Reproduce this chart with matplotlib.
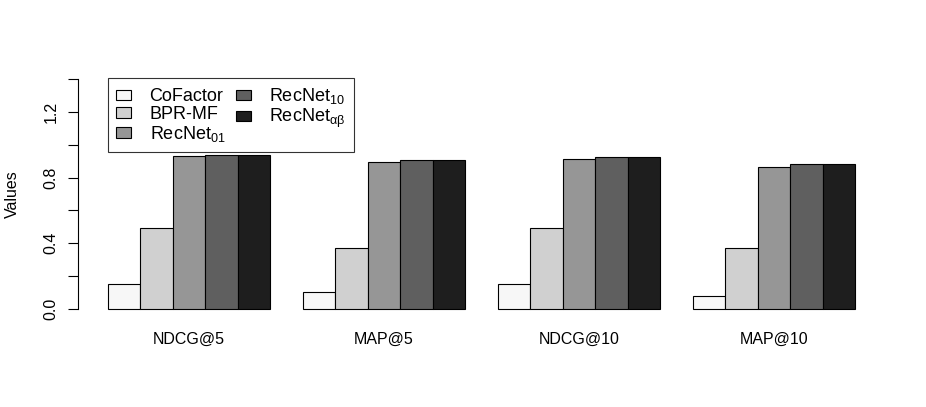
import numpy as np
import matplotlib.pyplot as plt
from matplotlib.patches import Patch

plt.rcParams['font.family'] = ['Liberation Sans', 'DejaVu Sans']
plt.rcParams['mathtext.fontset'] = 'custom'
plt.rcParams['mathtext.rm'] = 'Liberation Sans'
plt.rcParams['mathtext.it'] = 'Liberation Sans'

# -----------------------------
# Data
# -----------------------------
metrics = ["NDCG@5", "MAP@5", "NDCG@10", "MAP@10"]
methods = ["CoFactor", "BPR-MF", r"RecNet$_\mathrm{01}$", r"RecNet$_\mathrm{10}$", r"RecNet$_\mathrm{αβ}$"]
cofactor = [0.15, 0.10, 0.15, 0.08]
bpr_mf = [0.49, 0.37, 0.49, 0.37]
recnet_01 = [0.93, 0.895, 0.915, 0.865]
recnet_10 = [0.94, 0.905, 0.925, 0.882]
recnet_ab = [0.94, 0.905, 0.925, 0.882]
colors = ["#F7F7F7", "#D0D0D0", "#969696", "#5F5F5F", "#1E1E1E"]

values = [cofactor, bpr_mf, recnet_01, recnet_10, recnet_ab]

# -----------------------------
# Plot (R barplot look)
# -----------------------------
fig = plt.figure(figsize=(9.26, 4.07), dpi=100)
ax = fig.add_axes([78 / 926, 1 - 318 / 407, (885 - 78) / 926, (318 - 70) / 407])

n = len(methods)
for j, (vals, c) in enumerate(zip(values, colors)):
    x = [1 + g * (n + 1) + j for g in range(len(metrics))]
    ax.bar(x, vals, width=1, align="edge", color=c, edgecolor="black", linewidth=0.8)

ax.set_xlim(0.08, 24.92)
ax.set_ylim(-0.056, 1.456)

for s in ["top", "right", "bottom"]:
    ax.spines[s].set_visible(False)
ax.spines["left"].set_bounds(0, 1.4)
ax.spines["left"].set_linewidth(0.8)

ax.set_yticks(np.arange(0, 1.41, 0.2))
ax.set_yticklabels(["0.0", "", "0.4", "", "0.8", "", "1.2", ""],
                   rotation=90, va="center", fontsize=11.5)
ax.tick_params(axis="y", length=7, width=0.8, pad=7)

centers = [1 + g * (n + 1) + n / 2 for g in range(len(metrics))]
ax.set_xticks(centers)
ax.set_xticklabels(metrics, fontsize=11.5)
ax.tick_params(axis="x", length=0, pad=10)

ax.set_ylabel("Values", fontsize=11.5, labelpad=17)

handles = [Patch(facecolor=c, edgecolor="black", linewidth=0.8) for c in colors]
leg = fig.legend(handles, methods, loc="upper left", ncol=2,
                 bbox_to_anchor=(108 / 926, 1 - 78 / 407),
                 fontsize=13, frameon=True, fancybox=False,
                 handlelength=0.85, handleheight=0.5, handletextpad=1.0,
                 columnspacing=0.6, labelspacing=0.05, borderpad=0.45,
                 borderaxespad=0)
leg.get_frame().set_edgecolor("black")
leg.get_frame().set_linewidth(0.8)

plt.savefig("out.png", dpi=100)
